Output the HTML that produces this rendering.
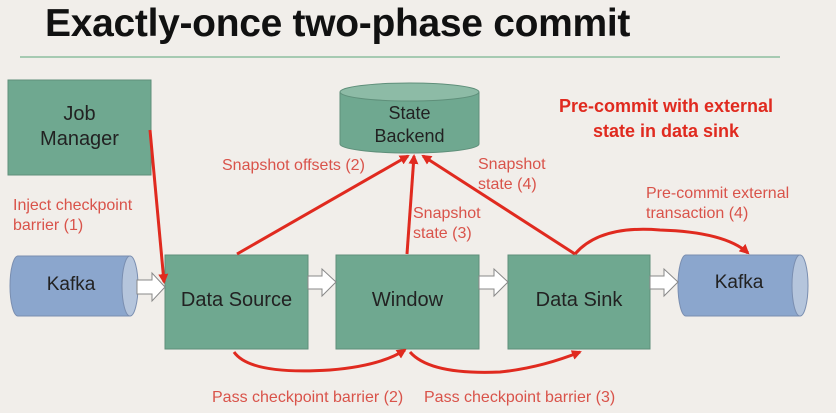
<!DOCTYPE html>
<html><head><style>
body{margin:0;width:836px;height:413px;background:#f1eeea;font-family:"Liberation Sans",sans-serif;overflow:hidden;position:relative}
.t{position:absolute;white-space:nowrap}
</style></head><body>
<div class="t" style="left:45px;top:2px;font-size:39px;font-weight:bold;color:#111;letter-spacing:-0.3px">Exactly-once two-phase commit</div>
<svg width="836" height="413" style="position:absolute;left:0;top:0">
<defs>
<marker id="a" markerWidth="10" markerHeight="10" refX="8" refY="5" orient="auto" markerUnits="userSpaceOnUse"><path d="M0,0 L10,5 L0,10 z" fill="#e02a1f"/></marker>
</defs>
<line x1="20" y1="57" x2="780" y2="57" stroke="#5aa57a" stroke-width="1"/>
<g fill="#6fa890" stroke="#5f8f7a">
<rect x="8" y="80" width="143" height="95"/>
<rect x="165" y="255" width="143" height="94"/>
<rect x="336" y="255" width="143" height="94"/>
<rect x="508" y="255" width="142" height="94"/>
<path d="M340,92 L340,144 A69.5,9 0 0 0 479,144 L479,92"/>
<ellipse cx="409.5" cy="92" rx="69.5" ry="9" fill="#8dbba6"/>
</g>
<g stroke="#7a8eb0" fill="#8ba6cd">
<path d="M18,256 L130,256 L130,316 L18,316 A8,30 0 0 1 18,256z"/>
<ellipse cx="130" cy="286" rx="8" ry="30" fill="#b5c5dc"/>
<path d="M686,255 L800,255 L800,316 L686,316 A8,30.5 0 0 1 686,255z"/>
<ellipse cx="800" cy="285.5" rx="8" ry="30.5" fill="#b5c5dc"/>
</g>
<g fill="#fff" stroke="#888" stroke-width="1">
<path d="M137,280 L152,280 L152,273 L165,287 L152,301 L152,294 L137,294z"/>
<path d="M308,276 L322,276 L322,269 L336,282 L322,296 L322,289 L308,289z"/>
<path d="M479,276 L494,276 L494,269 L508,282 L494,296 L494,289 L479,289z"/>
<path d="M650,276 L664,276 L664,269 L678,282 L664,296 L664,289 L650,289z"/>
</g>
<g stroke="#e02a1f" stroke-width="3" fill="none" marker-end="url(#a)">
<line x1="150" y1="130" x2="164" y2="282"/>
<line x1="237" y1="254" x2="408" y2="156"/>
<line x1="407" y1="254" x2="414" y2="156"/>
<line x1="575" y1="254" x2="423" y2="156"/>
<path d="M575,254 Q600,225 660,230 Q725,232 748,253"/>
<path d="M234,352 Q250,375 330,370 Q380,366 405,350"/>
<path d="M410,352 Q430,375 500,372 Q540,368 580,352"/>
</g>
</svg>
<div class="t" style="left:8px;top:102px;width:143px;text-align:center;font-size:20px;line-height:25px;color:#222">Job<br>Manager</div>
<div class="t" style="left:340px;top:102px;width:139px;text-align:center;font-size:18px;line-height:23px;color:#222">State<br>Backend</div>
<div class="t" style="left:10px;top:274px;width:122px;text-align:center;font-size:19px;color:#222">Kafka</div>
<div class="t" style="left:678px;top:272px;width:122px;text-align:center;font-size:19px;color:#222">Kafka</div>
<div class="t" style="left:165px;top:289px;width:143px;text-align:center;font-size:20px;color:#222">Data Source</div>
<div class="t" style="left:336px;top:289px;width:143px;text-align:center;font-size:20px;color:#222">Window</div>
<div class="t" style="left:508px;top:289px;width:142px;text-align:center;font-size:20px;color:#222">Data Sink</div>
<div class="t" style="left:556px;top:94px;font-size:18px;font-weight:bold;color:#e02a1f;text-align:center;line-height:25px;width:220px">Pre-commit with external<br>state in data sink</div>
<div style="color:#d9534a;font-size:16px;line-height:20px">
<div class="t" style="left:13px;top:196px">Inject checkpoint<br>barrier (1)</div>
<div class="t" style="left:222px;top:156px">Snapshot offsets (2)</div>
<div class="t" style="left:413px;top:204px">Snapshot<br>state (3)</div>
<div class="t" style="left:478px;top:155px">Snapshot<br>state (4)</div>
<div class="t" style="left:646px;top:184px">Pre-commit external<br>transaction (4)</div>
<div class="t" style="left:212px;top:388px">Pass checkpoint barrier (2)</div>
<div class="t" style="left:424px;top:388px">Pass checkpoint barrier (3)</div>
</div>
</body></html>
